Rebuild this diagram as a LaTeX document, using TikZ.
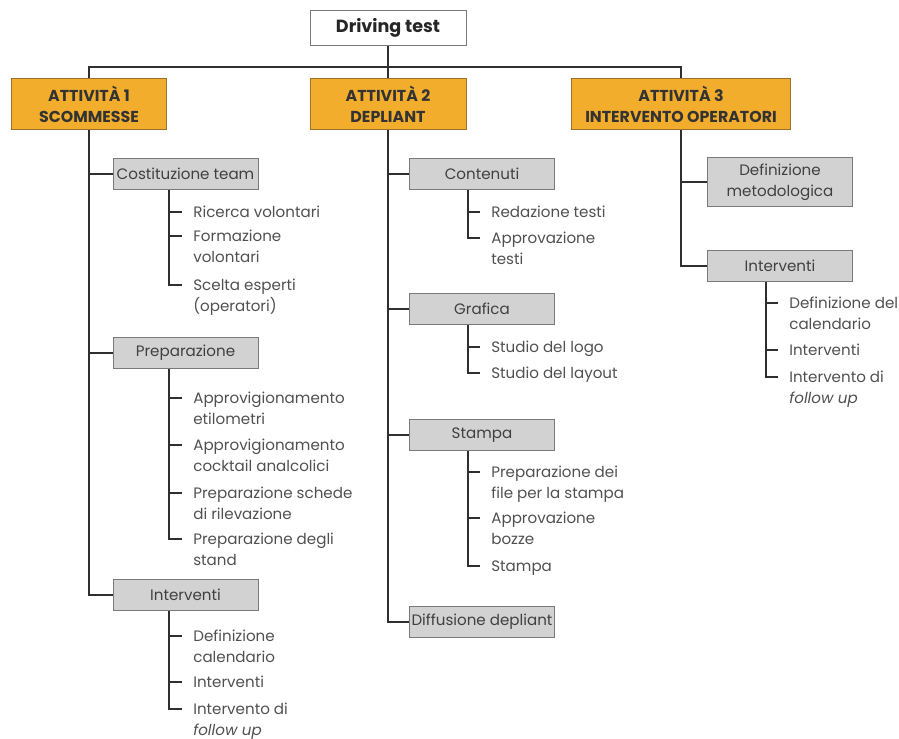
\documentclass[tikz,border=0pt]{standalone}
\usepackage{fontspec}
\setmainfont{Poppins}
\usepackage{xcolor}
\usetikzlibrary{positioning}

\definecolor{attorange}{HTML}{F3AD2C}
\definecolor{attedge}{HTML}{A0702A}
\definecolor{taskgray}{HTML}{D2D2D2}
\definecolor{taskedge}{HTML}{7A7A7A}
\definecolor{linegray}{HTML}{2F2F2F}
\definecolor{leaftext}{HTML}{505050}

\begin{document}
\begin{tikzpicture}[x=0.02cm, y=-0.02cm,
  every node/.style={font=\fontsize{8.6}{11.9}\selectfont},
  rootbox/.style={draw=taskedge, fill=white, minimum width=3.12cm, minimum height=0.7cm,
    font=\fontsize{10}{12}\selectfont\bfseries, text=black!85},
  attbox/.style={draw=attedge, fill=attorange, minimum height=1.02cm, align=center,
    font=\fontsize{9}{11.9}\selectfont\bfseries, text=black!80},
  taskbox/.style={draw=taskedge, fill=taskgray, minimum width=2.9cm, minimum height=0.62cm,
    inner xsep=1pt, align=center, text=black!75},
  leaf/.style={anchor=north west, align=left, inner xsep=0.22cm, inner ysep=0pt, text=leaftext},
  trunk/.style={draw=linegray, line width=1.1pt},
  twig/.style={draw=linegray, line width=0.9pt}
]
\useasboundingbox (0,0) rectangle (899,739);

% ---- top level ----
\node[rootbox] (root) at (388,28) {Driving test};
\node[attbox, minimum width=3.1cm] (act1) at (89,104) {ATTIVITÀ 1\\SCOMMESSE};
\node[attbox, minimum width=3.12cm] (act2) at (388,104) {ATTIVITÀ 2\\DEPLIANT};
\node[attbox, minimum width=4.38cm] (act3) at (681,104) {ATTIVITÀ 3\\INTERVENTO OPERATORI};
\coordinate (bar) at (0,67);
\draw[trunk] (root.south) -- (act2.north);
\draw[trunk] (act1.north) -- (act1.north |- bar) -- (act3.north |- bar) -- (act3.north);

% ---- (1) scommesse ----
\node[taskbox] (ct) at (185.5,174) {Costituzione team};
\node[taskbox] (prep) at (185.5,353) {Preparazione};
\node[taskbox] (int1) at (185.5,595) {Interventi};
\draw[trunk] (act1.south) |- (int1.west);
\draw[trunk] (act1.south |- ct.west) -- (ct.west);
\draw[trunk] (act1.south |- prep.west) -- (prep.west);
\coordinate (s1) at (169,0);
\node[leaf] (l11) at (182,206) {Ricerca volontari};
\node[leaf] (l12) at (182,230) {Formazione\\volontari};
\node[leaf] (l13) at (182,279) {Scelta esperti\\(operatori)};
\node[leaf] (l21) at (182,392) {Approvigionamento\\etilometri};
\node[leaf] (l22) at (182,439) {Approvigionamento\\cocktail analcolici};
\node[leaf] (l23) at (182,487) {Preparazione schede\\di rilevazione};
\node[leaf] (l24) at (182,533) {Preparazione degli\\stand};
\node[leaf] (l31) at (182,630) {Definizione\\calendario};
\node[leaf] (l32) at (182,676) {Interventi};
\node[leaf] (l33) at (182,703) {Intervento di\\\textit{follow up}};
\draw[twig] (ct.south -| s1) |- ([yshift=-0.12cm]l13.north west);
\draw[twig] (prep.south -| s1) |- ([yshift=-0.12cm]l24.north west);
\draw[twig] (int1.south -| s1) |- ([yshift=-0.12cm]l33.north west);
\foreach \l in {l11,l12,l21,l22,l23,l31,l32}
  \draw[twig] ([yshift=-0.12cm]\l.north west) -- +(-13,0);

% ---- (2) depliant ----
\node[taskbox] (cont) at (482,174) {Contenuti};
\node[taskbox] (graf) at (482,309) {Grafica};
\node[taskbox] (stam) at (482,435) {Stampa};
\node[taskbox] (diff) at (482,622) {Diffusione depliant};
\draw[trunk] (act2.south) |- (diff.west);
\foreach \t in {cont,graf,stam}
  \draw[trunk] (act2.south |- \t.west) -- (\t.west);
\coordinate (s2) at (468,0);
\node[leaf] (m11) at (480,206) {Redazione testi};
\node[leaf] (m12) at (480,232) {Approvazione\\testi};
\node[leaf] (m21) at (480,341) {Studio del logo};
\node[leaf] (m22) at (480,367) {Studio del layout};
\node[leaf] (m31) at (480,466) {Preparazione dei\\file per la stampa};
\node[leaf] (m32) at (480,512) {Approvazione\\bozze};
\node[leaf] (m33) at (480,560) {Stampa};
\draw[twig] (cont.south -| s2) |- ([yshift=-0.12cm]m12.north west);
\draw[twig] (graf.south -| s2) |- ([yshift=-0.12cm]m22.north west);
\draw[twig] (stam.south -| s2) |- ([yshift=-0.12cm]m33.north west);
\foreach \l in {m11,m21,m31,m32}
  \draw[twig] ([yshift=-0.12cm]\l.north west) -- +(-12,0);

% ---- (3) intervento operatori ----
\node[taskbox, minimum height=0.98cm] (dmet) at (780,182) {Definizione\\metodologica};
\node[taskbox] (int3) at (780,266) {Interventi};
\draw[trunk] (act3.south) |- (int3.west);
\draw[trunk] (act3.south |- dmet.west) -- (dmet.west);
\coordinate (s3) at (766,0);
\node[leaf] (n1) at (778,297) {Definizione del\\calendario};
\node[leaf] (n2) at (778,344) {Interventi};
\node[leaf] (n3) at (778,371) {Intervento di\\\textit{follow up}};
\draw[twig] (int3.south -| s3) |- ([yshift=-0.12cm]n3.north west);
\foreach \l in {n1,n2}
  \draw[twig] ([yshift=-0.12cm]\l.north west) -- +(-12,0);
\end{tikzpicture}
\end{document}
